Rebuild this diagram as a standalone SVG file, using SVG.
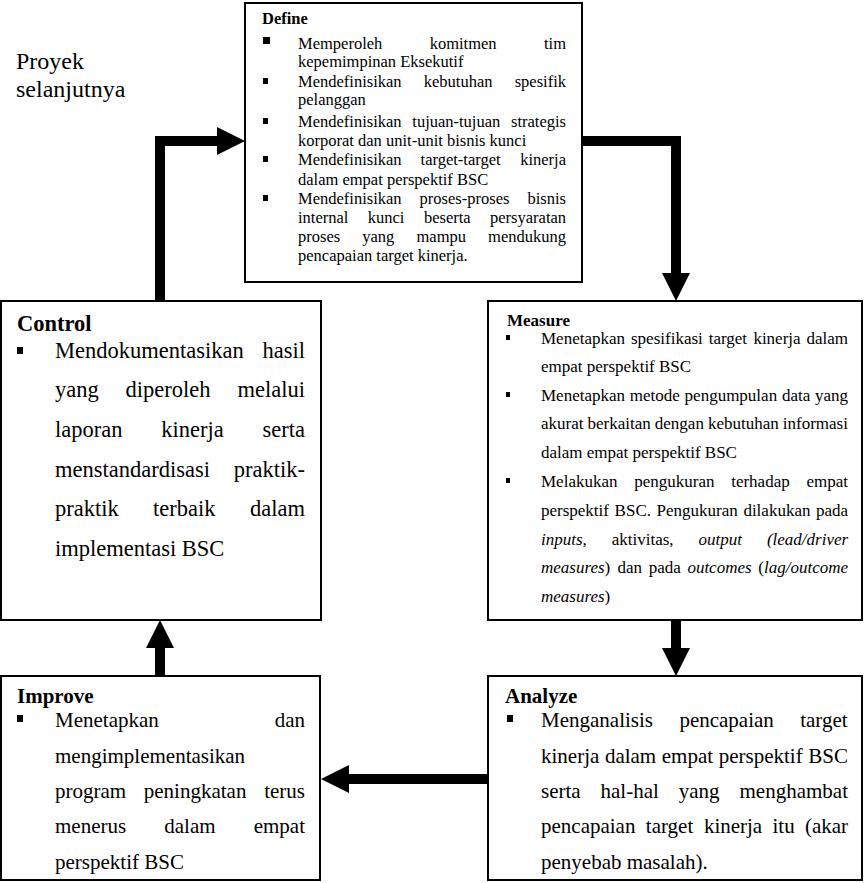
<svg xmlns="http://www.w3.org/2000/svg" width="864" height="883" viewBox="0 0 864 883">
<style>
text{font-family:"Liberation Serif","Times New Roman",serif;font-weight:400;fill:#000}
.box{fill:#fff;stroke:#000;stroke-width:2}
.b{fill:#000}
.sh{fill:none;stroke:#000;stroke-width:10;stroke-linejoin:miter}
.d{font-size:16.5px}.m{font-size:17px}.c{font-size:22.5px}.ia{font-size:21px}
.t{font-weight:700}
.it{font-style:italic}
</style>
<defs>
<marker id="ah" markerUnits="userSpaceOnUse" markerWidth="28" markerHeight="28" refX="0" refY="14" orient="auto">
<path d="M0,0 L28,14 L0,28 Z" fill="#000"/>
</marker>
</defs>
<rect width="864" height="883" fill="#fff"/>
<g id="label-proyek">
<text x="16" y="69" font-size="24">Proyek</text>
<text x="16" y="97" font-size="24">selanjutnya</text>
</g>
<g id="connectors">
<path class="sh" d="M160,301 V141 H217" marker-end="url(#ah)"/>
<path class="sh" d="M582,141 H676 V273" marker-end="url(#ah)"/>
<path class="sh" d="M676,620 V648" marker-end="url(#ah)"/>
<path class="sh" d="M488,779 H349" marker-end="url(#ah)"/>
<path class="sh" d="M160,676 V648" marker-end="url(#ah)"/>
</g>
<g id="define">
<rect class="box" x="245" y="3" width="337" height="279"/>
<text class="d t" x="262" y="24" font-size="16">Define</text>
<rect class="b" x="263" y="37" width="7" height="7"/>
<rect class="b" x="263" y="78" width="5" height="6"/>
<rect class="b" x="263" y="118" width="5" height="6"/>
<rect class="b" x="263" y="156" width="5" height="6"/>
<rect class="b" x="263" y="195" width="5" height="6"/>
<text class="d" y="48.5"><tspan x="298">Memperoleh</tspan><tspan x="429.7">komitmen</tspan><tspan x="544">tim</tspan></text>
<text class="d" x="298" y="67">kepemimpinan Eksekutif</text>
<text class="d" y="86.5"><tspan x="298">Mendefinisikan</tspan><tspan x="423.8">kebutuhan</tspan><tspan x="514.7">spesifik</tspan></text>
<text class="d" x="298" y="105">pelanggan</text>
<text class="d" y="127"><tspan x="298">Mendefinisikan</tspan><tspan x="412.3">tujuan-tujuan</tspan><tspan x="511">strategis</tspan></text>
<text class="d" x="298" y="146">korporat dan unit-unit bisnis kunci</text>
<text class="d" y="165"><tspan x="298">Mendefinisikan</tspan><tspan x="420.6">target-target</tspan><tspan x="520.2">kinerja</tspan></text>
<text class="d" x="298" y="185">dalam empat perspektif BSC</text>
<text class="d" y="204"><tspan x="298">Mendefinisikan</tspan><tspan x="419.6">proses-proses</tspan><tspan x="527.5">bisnis</tspan></text>
<text class="d" y="223"><tspan x="298">internal</tspan><tspan x="367.8">kunci</tspan><tspan x="423.9">beserta</tspan><tspan x="490">persyaratan</tspan></text>
<text class="d" y="242"><tspan x="298">proses</tspan><tspan x="362.3">yang</tspan><tspan x="416.5">mampu</tspan><tspan x="488.1">mendukung</tspan></text>
<text class="d" x="298" y="261">pencapaian target kinerja.</text>
</g>
<g id="measure">
<rect class="box" x="488" y="301" width="374" height="319"/>
<text class="m t" x="507" y="326" font-size="16">Measure</text>
<rect class="b" x="506" y="335" width="4" height="5"/>
<rect class="b" x="506" y="392" width="4" height="5"/>
<rect class="b" x="506" y="478" width="4" height="5"/>
<text class="m" y="344"><tspan x="541">Menetapkan</tspan><tspan x="631">spesifikasi</tspan><tspan x="708.7">target</tspan><tspan x="753.4">kinerja</tspan><tspan x="806.5">dalam</tspan></text>
<text class="m" x="541" y="372">empat perspektif BSC</text>
<text class="m" y="401"><tspan x="541">Menetapkan</tspan><tspan x="629.8">metode</tspan><tspan x="684.6">pengumpulan</tspan><tspan x="781.9">data</tspan><tspan x="815">yang</tspan></text>
<text class="m" y="429"><tspan x="541">akurat</tspan><tspan x="587.5">berkaitan</tspan><tspan x="654.8">dengan</tspan><tspan x="707.9">kebutuhan</tspan><tspan x="782.8">informasi</tspan></text>
<text class="m" x="541" y="458">dalam empat perspektif BSC</text>
<text class="m" y="487"><tspan x="541">Melakukan</tspan><tspan x="634.2">pengukuran</tspan><tspan x="731.2">terhadap</tspan><tspan x="806.5">empat</tspan></text>
<text class="m" y="516"><tspan x="541">perspektif</tspan><tspan x="614.6">BSC.</tspan><tspan x="656.6">Pengukuran</tspan><tspan x="743.4">dilakukan</tspan><tspan x="816">pada</tspan></text>
<text class="m" y="545"><tspan x="541" class="it">inputs,</tspan><tspan x="611.7">aktivitas,</tspan><tspan x="698.5" class="it">output</tspan><tspan x="766.9" class="it">(lead/driver</tspan></text>
<text class="m" y="573"><tspan x="541" class="it">measures</tspan><tspan>)</tspan><tspan x="617.5">dan</tspan><tspan x="648.7">pada</tspan><tspan x="687.4" class="it">outcomes</tspan><tspan x="758.3">(</tspan><tspan class="it">lag/outcome</tspan></text>
<text class="m" x="541" y="602"><tspan class="it">measures</tspan>)</text>
</g>
<g id="control">
<rect class="box" x="1" y="301" width="320" height="319"/>
<text class="c t" x="17" y="331">Control</text>
<rect class="b" x="17" y="347" width="6" height="7"/>
<text class="c" y="358"><tspan x="55">Mendokumentasikan</tspan><tspan x="262.5">hasil</tspan></text>
<text class="c" y="397"><tspan x="55">yang</tspan><tspan x="125.6">diperoleh</tspan><tspan x="237.5">melalui</tspan></text>
<text class="c" y="437"><tspan x="55">laporan</tspan><tspan x="161.3">kinerja</tspan><tspan x="262.5">serta</tspan></text>
<text class="c" y="477"><tspan x="55">menstandardisasi</tspan><tspan x="233.8">praktik-</tspan></text>
<text class="c" y="516"><tspan x="55">praktik</tspan><tspan x="153.1">terbaik</tspan><tspan x="250">dalam</tspan></text>
<text class="c" x="55" y="556">implementasi BSC</text>
</g>
<g id="improve">
<rect class="box" x="1" y="676" width="319" height="204"/>
<text class="ia t" x="17" y="703" font-size="20.5">Improve</text>
<rect class="b" x="17" y="715" width="6" height="7"/>
<text class="ia" y="727"><tspan x="55">Menetapkan</tspan><tspan x="274.7">dan</tspan></text>
<text class="ia" x="55" y="763">mengimplementasikan</text>
<text class="ia" y="798"><tspan x="55">program</tspan><tspan x="143.8">peningkatan</tspan><tspan x="264.2">terus</tspan></text>
<text class="ia" y="833"><tspan x="55">menerus</tspan><tspan x="164.3">dalam</tspan><tspan x="253.7">empat</tspan></text>
<text class="ia" x="55" y="869">perspektif BSC</text>
</g>
<g id="analyze">
<rect class="box" x="488" y="676" width="374" height="204"/>
<text class="ia t" x="505" y="703" font-size="20.5">Analyze</text>
<rect class="b" x="507" y="715" width="6" height="7"/>
<text class="ia" y="727"><tspan x="541">Menganalisis</tspan><tspan x="679.4">pencapaian</tspan><tspan x="800.2">target</tspan></text>
<text class="ia" y="763"><tspan x="541">kinerja</tspan><tspan x="604.9">dalam</tspan><tspan x="661.8">empat</tspan><tspan x="718.7">perspektif</tspan><tspan x="808.3">BSC</tspan></text>
<text class="ia" y="798"><tspan x="541">serta</tspan><tspan x="600.5">hal-hal</tspan><tspan x="678.7">yang</tspan><tspan x="739.5">menghambat</tspan></text>
<text class="ia" y="833"><tspan x="541">pencapaian</tspan><tspan x="645.8">target</tspan><tspan x="703.9">kinerja</tspan><tspan x="772.5">itu</tspan><tspan x="804.9">(akar</tspan></text>
<text class="ia" x="541" y="869">penyebab masalah).</text>
</g>
</svg>
